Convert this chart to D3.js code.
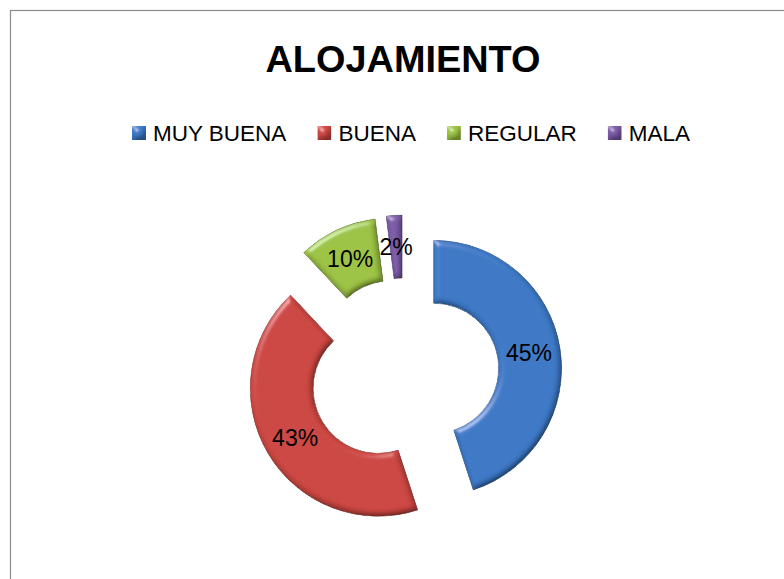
<html>
<head>
<meta charset="utf-8">
<style>
  body { margin: 0; background: #fff; }
  text { font-family: "Liberation Sans", Arial, sans-serif; }
</style>
</head>
<body>
<svg id="container" width="784" height="579"></svg>
<script src="https://d3js.org/d3.v7.min.js"></script>
<script>
    let categories = ["MUY BUENA", "BUENA", "REGULAR", "MALA"]
    let values = [45, 43, 10, 2]
    let colors = ["#3d79c6", "#cc4742", "#9cc244", "#7b5aa6"]
    let title = "ALOJAMIENTO"

    let svg = d3.select("#container")
    let cx = 404, cy = 373
    let outerR = 128, innerR = 65, explode = 30

    // frame
    svg.append("rect")
        .attr("x", 10.5).attr("y", 10.5)
        .attr("width", 800).attr("height", 600)
        .attr("fill", "white")
        .attr("stroke", "#8c8c8c")
        .attr("stroke-width", 1.2)

    // bevel filter
    let defs = svg.append("defs")
    let f = defs.append("filter").attr("id", "bevel")
        .attr("x", "-10%").attr("y", "-10%").attr("width", "120%").attr("height", "120%")
    f.append("feGaussianBlur").attr("in", "SourceAlpha").attr("stdDeviation", 3).attr("result", "blur")
    f.append("feDiffuseLighting").attr("in", "blur").attr("surfaceScale", 4)
        .attr("diffuseConstant", 1 / Math.sin(60 * Math.PI / 180)).attr("lighting-color", "#fff").attr("result", "diff")
        .append("feDistantLight").attr("azimuth", 235).attr("elevation", 60)
    f.append("feSpecularLighting").attr("in", "blur").attr("surfaceScale", 4)
        .attr("specularConstant", 0.7).attr("specularExponent", 30)
        .attr("lighting-color", "#fff").attr("result", "spec")
        .append("feDistantLight").attr("azimuth", 235).attr("elevation", 30)
    f.append("feComposite").attr("in", "SourceGraphic").attr("in2", "diff")
        .attr("operator", "arithmetic").attr("k1", 1).attr("k2", 0).attr("k3", 0).attr("k4", 0)
        .attr("result", "shaded")
    f.append("feComposite").attr("in", "spec").attr("in2", "SourceAlpha")
        .attr("operator", "in").attr("result", "specIn")
    f.append("feComposite").attr("in", "shaded").attr("in2", "specIn")
        .attr("operator", "arithmetic").attr("k1", 0).attr("k2", 1).attr("k3", 0.45).attr("k4", 0)
        .attr("result", "lit")
    f.append("feComposite").attr("in", "lit").attr("in2", "SourceAlpha").attr("operator", "in")

    // title
    svg.append("text")
        .attr("x", 403).attr("y", 72)
        .attr("text-anchor", "middle")
        .attr("font-size", 36).attr("font-weight", "bold")
        .attr("textLength", 275).attr("lengthAdjust", "spacingAndGlyphs")
        .text(title)

    // legend
    let legend = svg.append("g")
    let lx = 132
    categories.forEach((c, i) => {
        let item = legend.append("g")
        item.append("rect")
            .attr("x", lx).attr("y", 126).attr("width", 14).attr("height", 14)
            .attr("fill", colors[i]).attr("filter", "url(#bevel)")
        let t = item.append("text")
            .attr("x", lx + 21).attr("y", 141)
            .attr("font-size", 22.5)
            .text(c)
        lx += 21 + t.node().getComputedTextLength() + 31
    })

    // donut
    let pie = d3.pie().sort(null).value(d => d)
    let arc = d3.arc().innerRadius(innerR).outerRadius(outerR)
    let labelArc = d3.arc().innerRadius((innerR + outerR) / 2).outerRadius((innerR + outerR) / 2)
    let arcs = pie(values)

    let slices = svg.append("g").attr("transform", `translate(${cx},${cy})`)
        .selectAll("g").data(arcs)
        .enter().append("g")
        .attr("transform", d => {
            let a = (d.startAngle + d.endAngle) / 2
            return `translate(${Math.sin(a) * explode},${-Math.cos(a) * explode})`
        })

    slices.append("path")
        .attr("d", arc)
        .attr("fill", (d, i) => colors[i])
        .attr("stroke", (d, i) => d3.color(colors[i]).darker(1.2))
        .attr("stroke-width", 0.8)
        .attr("filter", "url(#bevel)")

    slices.append("text")
        .attr("transform", d => `translate(${labelArc.centroid(d)})`)
        .attr("text-anchor", "middle")
        .attr("dy", "0.36em")
        .attr("font-size", 23)
        .text(d => d.data + "%")
</script>
</body>
</html>
